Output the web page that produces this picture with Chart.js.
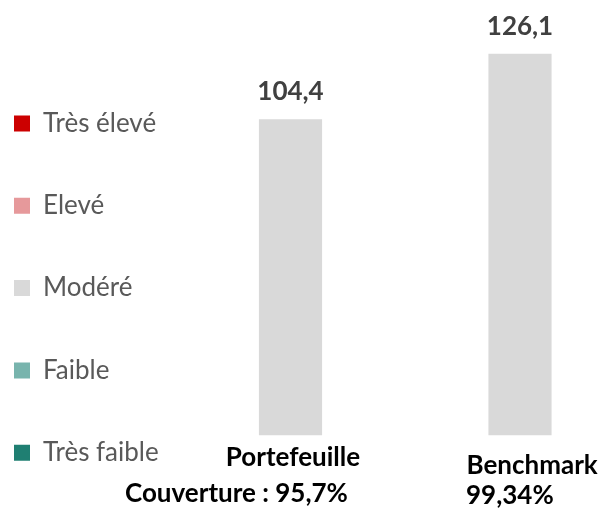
<!DOCTYPE html>
<html>
<head>
<meta charset="utf-8">
<script src="https://cdn.jsdelivr.net/npm/chart.js@4"></script>
<style>
  html, body { margin: 0; padding: 0; background: #fff; }
</style>
</head>
<body>
<canvas id="riskChart" width="613" height="514"></canvas>
<script>
const categories = ['Portefeuille', 'Benchmark'];
const coverage = ['Couverture : 95,7%', '99,34%'];
const levels = ['Très élevé', 'Elevé', 'Modéré', 'Faible', 'Très faible'];
const levelColors = ['#CC0000', '#E6999B', '#D9D9D9', '#78B4AD', '#1F7F72'];
const veryHigh = [null, null];
const high = [null, null];
const moderate = [104.4, 126.1];
const low = [null, null];
const veryLow = [null, null];
const series = [veryHigh, high, moderate, low, veryLow];

// layout tuning
const PAD_LEFT = -42.3;
const AREA_LEFT = 290.5;
const LEGEND_PAD = 56.3;

// text under the bars: [dx from bar centre, dy below baseline, align]
const nameLayout = [[2.5, 30.7, 'center'], [-53.5, 39.3, 'left']];
const coverLayout = [[-165.5, 66.7, 'left'], [-54, 69, 'left']];

const textPlugin = {
  id: 'textPlugin',
  afterDatasetsDraw(chart) {
    const ctx = chart.ctx;
    const xs = chart.scales.x, ys = chart.scales.y;
    const base = chart.chartArea.bottom;
    ctx.save();
    ctx.textBaseline = 'alphabetic';
    categories.forEach((cat, i) => {
      const cx = xs.getPixelForValue(i);
      const total = series.reduce((s, d) => s + (d[i] || 0), 0);
      ctx.font = 'bold 26px Lato';
      ctx.fillStyle = '#404040';
      ctx.textAlign = 'center';
      ctx.fillText(total.toFixed(1).replace('.', ','), cx, ys.getPixelForValue(total) - 19.5);

      ctx.fillStyle = '#000000';
      ctx.textAlign = nameLayout[i][2];
      ctx.fillText(cat, cx + nameLayout[i][0], base + nameLayout[i][1]);
      ctx.textAlign = coverLayout[i][2];
      ctx.fillText(coverage[i], cx + coverLayout[i][0], base + coverLayout[i][1]);
    });
    ctx.restore();
  }
};

const ctx = document.getElementById('riskChart').getContext('2d');
new Chart(ctx, {
  type: 'bar',
  data: {
    labels: categories,
    datasets: levels.map((lvl, k) => ({
      label: lvl,
      data: series[k],
      backgroundColor: levelColors[k],
      borderWidth: 0,
      barThickness: 62.5,
      clip: false
    }))
  },
  options: {
    responsive: false,
    animation: false,
    layout: { padding: { left: PAD_LEFT, right: 93, top: 0, bottom: -8 } },
    plugins: {
      tooltip: { enabled: false },
      legend: {
        position: 'left',
        align: 'end',
        labels: {
          boxWidth: 16,
          boxHeight: 16,
          padding: LEGEND_PAD,
          color: '#595959',
          font: { family: 'Lato', size: 26 }
        }
      }
    },
    scales: {
      x: {
        stacked: true,
        display: false,
        offset: false,
        afterFit(s) { s.height = 87; }
      },
      y: {
        stacked: true,
        display: false,
        min: 0,
        max: 144,
        afterFit(s) { s.width = AREA_LEFT - PAD_LEFT - s.chart.legend.width; }
      }
    }
  },
  plugins: [textPlugin]
});
</script>
</body>
</html>
